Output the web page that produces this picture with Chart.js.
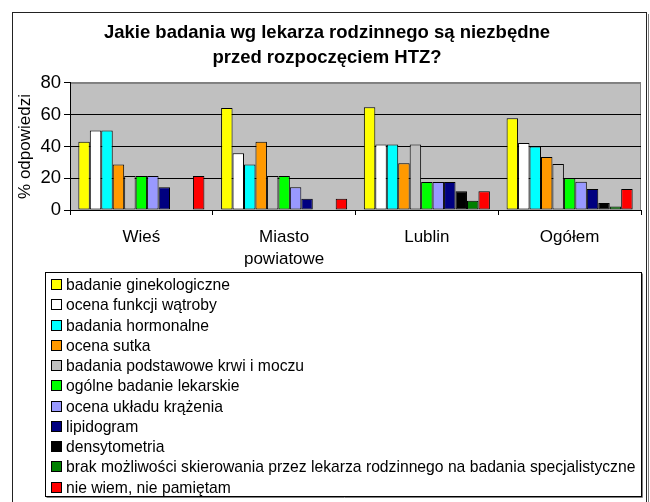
<!DOCTYPE html>
<html>
<head>
<meta charset="utf-8">
<script src="https://cdn.jsdelivr.net/npm/chart.js@4/dist/chart.umd.min.js"></script>
<style>
html,body{margin:0;padding:0;background:#fff;}
#wrap{width:650px;height:502px;position:relative;}
canvas{display:block;}
</style>
</head>
<body>
<div id="wrap"><canvas id="c" width="650" height="502"></canvas></div>
<script>
const titleLines = ['Jakie badania wg lekarza rodzinnego są niezbędne', 'przed rozpoczęciem HTZ?'];
const yAxisTitle = '% odpowiedzi';
const categories = ['Wieś', ['Miasto', 'powiatowe'], 'Lublin', 'Ogółem'];
const yTicks = [0, 20, 40, 60, 80];

const seriesNames = [
  'badanie ginekologiczne',
  'ocena funkcji wątroby',
  'badania hormonalne',
  'ocena sutka',
  'badania podstawowe krwi i moczu',
  'ogólne badanie lekarskie',
  'ocena układu krążenia',
  'lipidogram',
  'densytometria',
  'brak możliwości skierowania przez lekarza rodzinnego na badania specjalistyczne',
  'nie wiem, nie pamiętam'
];
const ginekologiczne = [42.9, 64.3, 64.7, 57.8];
const watroba        = [50.0, 35.7, 41.2, 42.2];
const hormonalne     = [50.0, 28.6, 41.2, 40.0];
const sutek          = [28.6, 42.9, 29.4, 33.3];
const krewMocz       = [21.4, 21.4, 41.2, 28.9];
const ogolne         = [21.4, 21.4, 17.6, 20.0];
const krazenie       = [21.4, 14.3, 17.6, 17.8];
const lipidogram     = [14.3, 7.1, 17.6, 13.3];
const densytometria  = [0, 0, 11.8, 4.4];
const brakMozliwosci = [0, 0, 5.9, 2.2];
const nieWiem        = [21.4, 7.1, 11.8, 13.3];
const seriesValues = [ginekologiczne, watroba, hormonalne, sutek, krewMocz, ogolne, krazenie, lipidogram, densytometria, brakMozliwosci, nieWiem];
const seriesColors = ['#FFFF00', '#FFFFFF', '#00FFFF', '#FF9900', '#C0C0C0', '#00FF00', '#9999FF', '#000080', '#000000', '#008000', '#FF0000'];

const FONT = "'Liberation Sans', Arial, sans-serif";

const datasets = seriesNames.map((n, i) => ({
  label: n,
  data: seriesValues[i],
  backgroundColor: seriesColors[i],
  borderColor: '#000000',
  borderWidth: 1,
  borderSkipped: false,
  categoryPercentage: 0.883,
  barPercentage: 1.0
}));

const decorPlugin = {
  id: 'decor',
  beforeDraw(chart) {
    const {ctx, chartArea: a} = chart;
    ctx.save();
    ctx.fillStyle = '#C0C0C0';
    ctx.fillRect(a.left, a.top, a.right - a.left, a.bottom - a.top);
    ctx.strokeStyle = '#808080';
    ctx.lineWidth = 1;
    ctx.strokeRect(a.left + 0.5, a.top + 0.5, a.right - a.left - 1, a.bottom - a.top);
    ctx.restore();
  },
  afterDraw(chart) {
    const ctx = chart.ctx;
    ctx.save();
    // outer frame
    ctx.strokeStyle = '#222222';
    ctx.lineWidth = 1;
    ctx.strokeRect(12.5, 12.5, 634, 520);
    ctx.strokeStyle = '#808080';
    ctx.beginPath(); ctx.moveTo(648.5, 14); ctx.lineTo(648.5, 502); ctx.stroke();
    // legend box
    const lx = 45.5, ly = 272.5, lw = 596, lh = 224;
    ctx.strokeStyle = '#000000';
    ctx.strokeRect(lx, ly, lw, lh);
    ctx.strokeStyle = '#808080';
    ctx.beginPath(); ctx.moveTo(lx + lw + 1, ly + 1); ctx.lineTo(lx + lw + 1, ly + lh + 1); ctx.lineTo(lx + 1, ly + lh + 1); ctx.stroke();
    ctx.font = '15.7px ' + FONT;
    ctx.textBaseline = 'middle';
    ctx.textAlign = 'left';
    chart.data.datasets.forEach((ds, i) => {
      const cy = 284.7 + i * 20.25;
      ctx.fillStyle = ds.backgroundColor;
      ctx.fillRect(52, Math.round(cy - 4.5), 9, 9);
      ctx.strokeStyle = '#000000';
      ctx.strokeRect(51.5, Math.round(cy - 4.5) - 0.5, 10, 10);
      ctx.fillStyle = '#000000';
      ctx.fillText(ds.label, 66, cy + 1);
    });
    ctx.restore();
  }
};

new Chart(document.getElementById('c'), {
  type: 'bar',
  data: { labels: categories, datasets },
  plugins: [decorPlugin],
  options: {
    responsive: false,
    devicePixelRatio: 1,
    animation: false,
    layout: { padding: { left: 13, right: 9, top: 0, bottom: 0 } },
    plugins: {
      legend: { display: false },
      tooltip: { enabled: false },
      title: {
        display: true,
        text: titleLines,
        color: '#000000',
        font: { family: FONT, size: 18.5, weight: 'bold', lineHeight: 1.35 },
        padding: { top: 20.5, bottom: 12.5 }
      }
    },
    scales: {
      x: {
        offset: true,
        grid: { display: true, drawOnChartArea: false, offset: true, tickLength: 5, color: '#000000' },
        border: { display: true, color: '#000000', width: 1 },
        ticks: { color: '#000000', font: { family: FONT, size: 17, lineHeight: 1.29 }, padding: 11, maxRotation: 0, autoSkip: false },
        afterFit(s) { s.height = 292; }
      },
      y: {
        min: 0, max: 80,
        afterBuildTicks(s) { s.ticks = yTicks.map(v => ({ value: v })); },
        grid: {
          color: (c) => (c.tick && c.tick.value === 80 ? '#808080' : '#000000'),
          tickColor: '#000000',
          tickLength: 6,
          lineWidth: 1
        },
        border: { display: true, color: '#000000', width: 1 },
        ticks: { color: '#000000', font: { family: FONT, size: 18.5 }, padding: 3 },
        title: { display: true, text: yAxisTitle, color: '#000000', font: { family: FONT, size: 17 }, padding: { top: 2, bottom: 0 } },
        afterFit(s) { s.width = 57; }
      }
    }
  }
});
</script>
</body>
</html>
